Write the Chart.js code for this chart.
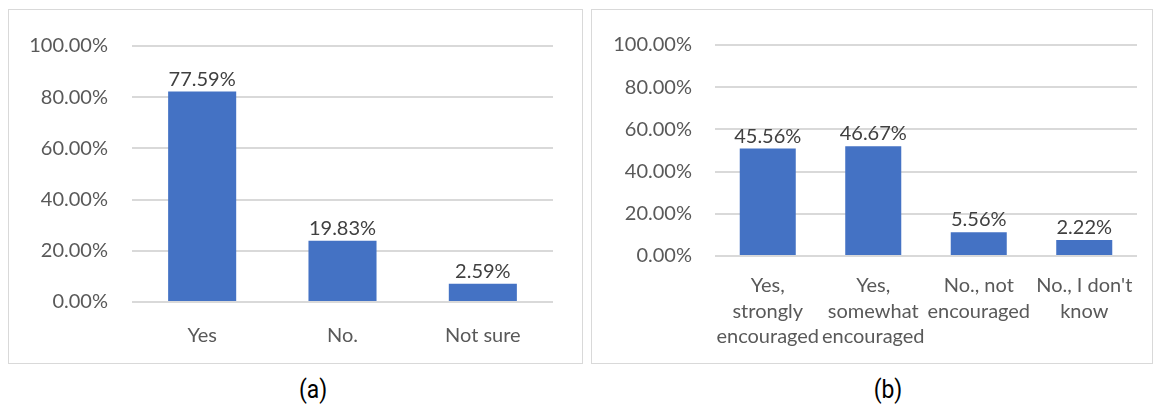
<!DOCTYPE html>
<html lang="en">
<head>
    <meta charset="UTF-8">
    <title>Survey bars</title>
    <script src="https://cdn.jsdelivr.net/npm/chart.js"></script>
    <style>
        body {
            margin: 0;
            background: #fff;
            width: 1158px;
            height: 404px;
            position: relative;
            overflow: hidden;
        }
        .box {
            position: absolute;
            top: 9px;
            height: 353px;
            border: 1px solid #d9d9d9;
        }
        #boxA { left: 8px; width: 573px; }
        #boxB { left: 591px; width: 560px; }
        .caption {
            position: absolute;
            top: 374px;
            font-family: "Liberation Sans Narrow", "Roboto", sans-serif;
            font-size: 26px;
            color: #000;
            transform: translateX(-50%) scaleX(0.88);
        }
    </style>
</head>
<body>
    <div class="box" id="boxA"><canvas id="chartA" width="573" height="353"></canvas></div>
    <div class="box" id="boxB"><canvas id="chartB" width="560" height="353"></canvas></div>
    <div class="caption" style="left:313px">(a)</div>
    <div class="caption" style="left:888px">(b)</div>

    <script>
        // (a)
        const labelsA = ['Yes', 'No.', 'Not sure'];
        const barsA = [82.2, 23.9, 7.1];          // bar heights as drawn
        const percentA = [77.59, 19.83, 2.59];    // printed labels

        // (b)
        const labelsB = [
            ['Yes,', 'strongly', 'encouraged'],
            ['Yes,', 'somewhat', 'encouraged'],
            ['No., not', 'encouraged'],
            ["No., I don't", 'know']
        ];
        const barsB = [50.9, 52.0, 11.3, 7.6];
        const percentB = [45.56, 46.67, 5.56, 2.22];

        const yTicks = [0, 20, 40, 60, 80, 100];

        const FONT = 'Lato, "Open Sans", sans-serif';

        const valueLabels = {
            id: 'valueLabels',
            afterDatasetsDraw(chart, args, opts) {
                const ctx = chart.ctx;
                const meta = chart.getDatasetMeta(0);
                ctx.save();
                ctx.font = '20px ' + FONT;
                ctx.fillStyle = '#404040';
                ctx.textAlign = 'center';
                ctx.textBaseline = 'alphabetic';
                meta.data.forEach((bar, i) => {
                    ctx.fillText(opts.values[i].toFixed(2) + '%', bar.x, bar.y - 6);
                });
                ctx.restore();
            }
        };

        function makeChart(id, labels, bars, values, opt) {
            return new Chart(document.getElementById(id), {
                type: 'bar',
                data: {
                    labels: labels,
                    datasets: [{
                        data: bars,
                        backgroundColor: '#4472C4',
                        barPercentage: opt.barPct,
                        categoryPercentage: 1
                    }]
                },
                options: {
                    responsive: false,
                    animation: false,
                    layout: { padding: { top: 28, right: opt.right, left: 0, bottom: 0 } },
                    plugins: {
                        legend: { display: false },
                        tooltip: { enabled: false },
                        valueLabels: { values: values }
                    },
                    scales: {
                        x: {
                            grid: { display: false },
                            border: { display: false },
                            ticks: {
                                font: { family: FONT, size: 20, lineHeight: 1.28 },
                                color: '#595959',
                                padding: opt.xPad,
                                autoSkip: false,
                                maxRotation: 0,
                                minRotation: 0
                            },
                            afterFit: s => { s.height = opt.xHeight; }
                        },
                        y: {
                            min: 0,
                            max: 100,
                            afterBuildTicks: s => { s.ticks = yTicks.map(v => ({ value: v })); },
                            grid: { color: '#d9d9d9', lineWidth: 2, drawTicks: false },
                            border: { display: false },
                            ticks: {
                                font: { family: FONT, size: 20 },
                                color: '#595959',
                                padding: opt.yPad,
                                callback: v => v.toFixed(2) + '%'
                            },
                            afterFit: s => { s.width = 123; }
                        }
                    }
                },
                plugins: [valueLabels]
            });
        }

        makeChart('chartA', labelsA, barsA, percentA, { barPct: 0.485, right: 29, xHeight: 61, xPad: 13, yPad: 24 });
        makeChart('chartB', labelsB, barsB, percentB, { barPct: 0.531, right: 15, xHeight: 107, xPad: 9, yPad: 23 });
    </script>
</body>
</html>
